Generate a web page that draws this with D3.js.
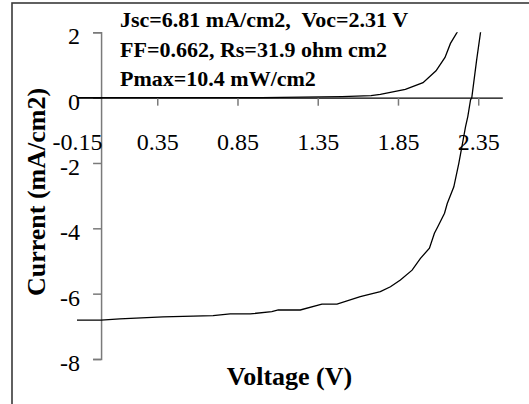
<!DOCTYPE html>
<html><head><meta charset="utf-8">
<script src="https://cdn.jsdelivr.net/npm/d3@7"></script>
<style>html,body{margin:0;padding:0;background:#fff;}svg{display:block;}</style>
</head><body>
<script>
// Illuminated J-V curve: voltage (V) and current density (mA/cm2)
const lightV = [-0.15, 0.0, 0.117, 0.386, 0.698, 0.804, 0.929, 1.064, 1.104, 1.241, 1.376, 1.470, 1.615, 1.740, 1.803, 1.865, 1.938, 1.990, 2.046, 2.077, 2.098, 2.140, 2.157, 2.198, 2.229, 2.250, 2.271, 2.285, 2.302, 2.310, 2.340, 2.365];
const lightJ = [-6.81, -6.81, -6.77, -6.71, -6.67, -6.62, -6.62, -6.55, -6.50, -6.50, -6.32, -6.32, -6.09, -5.94, -5.79, -5.58, -5.28, -4.92, -4.61, -4.15, -3.95, -3.54, -3.24, -2.73, -2.01, -1.45, -0.89, -0.58, -0.07, 0.0, 1.15, 2.02];
// Dark J-V curve
const darkV = [-0.15, 1.0, 1.501, 1.682, 1.740, 1.896, 2.006, 2.087, 2.143, 2.177, 2.221];
const darkJ = [0.0, 0.0, 0.03, 0.06, 0.10, 0.25, 0.46, 0.82, 1.23, 1.66, 2.02];
// Axis ticks
const xTicks = [-0.15, 0.35, 0.85, 1.35, 1.85, 2.35];
const yTicks = [2, 0, -2, -4, -6, -8];
const xDomain = [-0.15, 2.5];
const yDomain = [-8, 2];
const infoLines = ["Jsc=6.81 mA/cm2,  Voc=2.31 V", "FF=0.662, Rs=31.9 ohm cm2", "Pmax=10.4 mW/cm2"];
const xTitle = "Voltage (V)";
const yTitle = "Current (mA/cm2)";

const W = 529, H = 404;
const svg = d3.select("body").append("svg").attr("width", W).attr("height", H);
const font = "'Liberation Serif','Times New Roman',serif";

svg.append("rect").attr("x", 12).attr("y", 3).attr("width", 530).attr("height", 420)
  .attr("fill", "none").attr("stroke", "#3a3a3a").attr("stroke-width", 1.6);

const x = d3.scaleLinear().domain(xDomain).range([77, 502.3]);
const y = d3.scaleLinear().domain(yDomain).range([359, 32.3]);

svg.append("defs").append("clipPath").attr("id", "clip")
  .append("rect").attr("x", x(xDomain[0])).attr("y", y(yDomain[1])).attr("width", x(xDomain[1]) - x(xDomain[0])).attr("height", y(yDomain[0]) - y(yDomain[1]));

// Y axis at V = 0
const yAxis = d3.axisLeft(y).tickValues(yTicks).tickSize(8).tickPadding(13).tickFormat(d => String(d));
const gy = svg.append("g").attr("transform", `translate(${x(0)},0)`).call(yAxis);
gy.select(".domain").attr("stroke", "#7a7a7a").attr("stroke-width", 1.5);
gy.selectAll(".tick line").attr("stroke", "#7a7a7a").attr("stroke-width", 1.5);
gy.selectAll(".tick text").attr("font-family", font).attr("font-size", 24).attr("fill", "#000")
  .attr("dy", null).attr("y", 11.5).attr("x", -21);

// X axis at J = 0
const xAxis = d3.axisBottom(x).tickValues(xTicks).tickSize(8).tickSizeOuter(0).tickFormat(d => d.toFixed(2));
const gx = svg.append("g").attr("transform", `translate(0,${y(0)})`).call(xAxis);
gx.select(".domain").attr("stroke", "#000").attr("stroke-width", 1.4);
gx.selectAll(".tick line").attr("stroke", "#7a7a7a").attr("stroke-width", 1.5)
  .attr("display", d => d === xTicks[0] ? "none" : null);
gx.selectAll(".tick text").attr("font-family", font).attr("font-size", 24).attr("fill", "#000")
  .attr("dy", null).attr("y", 52.5);

const line = d3.line().x(d => x(d[0])).y(d => y(d[1]));
const plot = svg.append("g").attr("clip-path", "url(#clip)");
plot.append("path").datum(darkV.map((v, i) => [v, darkJ[i]]))
  .attr("d", line).attr("fill", "none").attr("stroke", "#000").attr("stroke-width", 1.3);
plot.append("path").datum(lightV.map((v, i) => [v, lightJ[i]]))
  .attr("d", line).attr("fill", "none").attr("stroke", "#000").attr("stroke-width", 1.3);

// Info text
svg.append("g").selectAll("text").data(infoLines).join("text")
  .attr("x", 120).attr("y", (d, i) => 27 + i * 29.6)
  .attr("font-family", font).attr("font-weight", "bold").attr("font-size", 22)
  .style("white-space", "pre").attr("xml:space", "preserve")
  .text(d => d);

// Axis titles
svg.append("text").attr("x", 289.5).attr("y", 385).attr("text-anchor", "middle")
  .attr("font-family", font).attr("font-weight", "bold").attr("font-size", 26).text(xTitle);
svg.append("text").attr("transform", "translate(45,192) rotate(-90)").attr("text-anchor", "middle")
  .attr("font-family", font).attr("font-weight", "bold").attr("font-size", 26).text(yTitle);
</script>
</body></html>
